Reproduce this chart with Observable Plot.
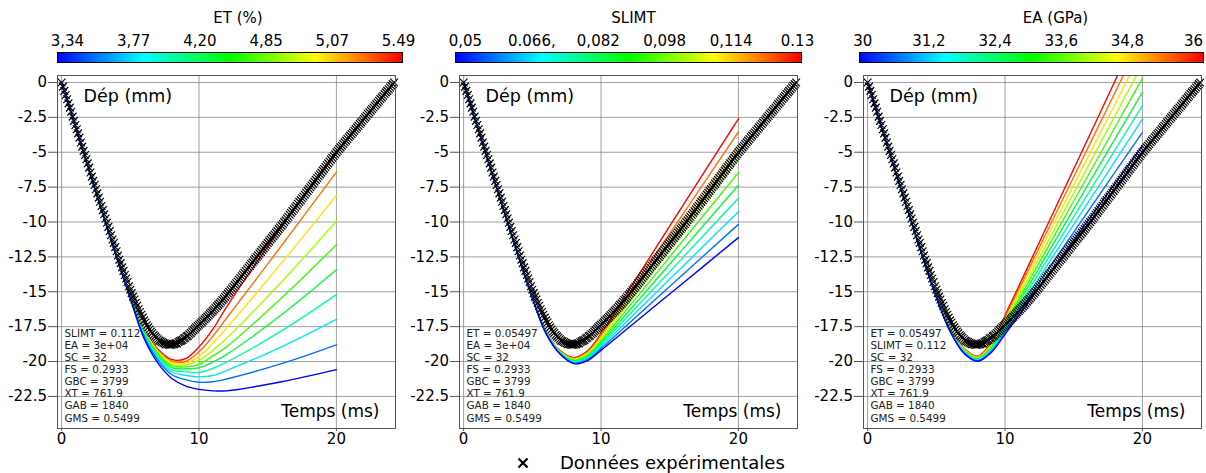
<!DOCTYPE html>
<html><head><meta charset="utf-8">
<script src="https://cdn.jsdelivr.net/npm/d3@7"></script>
<script src="https://cdn.jsdelivr.net/npm/@observablehq/plot@0.6"></script>
<style>
html,body{margin:0;padding:0;background:#fff;}
#root{position:relative;width:1206px;height:473px;overflow:hidden;font-family:"DejaVu Sans",sans-serif;background:#fff;}
.abs{position:absolute;}
.explg-swatch > svg{margin-right:29px !important;}
</style></head><body><div id="root"></div>
<script>
// ---------- data ----------
const expT0 = 0, expDt = 0.1; // sampling of the experimental record (ms)
const expY = [
0,-0.3,-0.6,-0.9,-1.2,-1.5,-1.8,-2.1,-2.45,-2.75,
-3.05,-3.35,-3.65,-3.95,-4.3,-4.6,-4.9,-5.2,-5.5,-5.8,
-6.1,-6.45,-6.75,-7.05,-7.35,-7.65,-7.95,-8.25,-8.55,-8.85,
-9.15,-9.45,-9.75,-10.05,-10.35,-10.65,-10.95,-11.25,-11.5,-11.8,
-12.1,
-12.4,-12.7,-12.95,-13.25,-13.5,-13.8,-14.05,-14.3,-14.6,-14.85,
-15.1,-15.35,-15.55,-15.8,-16.0,-16.25,-16.45,-16.65,-16.85,-17.05,
-17.2,-17.4,-17.55,-17.7,-17.85,-17.95,-18.1,-18.2,-18.3,-18.4,
-18.5,-18.55,-18.6,-18.65,-18.7,-18.75,-18.75,-18.8,-18.8,-18.8,
-18.75,-18.75,-18.7,-18.7,-18.6,-18.55,-18.5,-18.45,-18.35,-18.3,
-18.2,-18.15,-18.05,-17.95,-17.85,-17.75,-17.65,-17.55,-17.45,-17.36,
-17.27,-17.18,-17.08,-16.98,-16.88,-16.78,-16.68,-16.58,-16.48,-16.37,
-16.27,-16.16,-16.05,-15.94,-15.83,-15.72,-15.6,-15.49,-15.37,-15.25,
-15.13,-15.01,-14.89,
-14.76,-14.64,-14.51,-14.39,-14.26,-14.14,-14.01,
-13.89,-13.76,-13.64,-13.51,-13.39,-13.26,-13.14,-13.01,-12.89,-12.76,
-12.64,-12.51,-12.39,-12.26,-12.14,-12.01,-11.89,-11.76,-11.64,-11.51,
-11.39,-11.26,-11.14,-11.01,-10.89,-10.76,-10.64,-10.51,-10.39,-10.26,
-10.14,-10.01,
-9.88,-9.75,-9.62,-9.48,-9.35,-9.22,-9.09,-8.96,
-8.83,-8.69,-8.56,-8.43,-8.3,-8.17,-8.04,-7.9,-7.77,-7.64,
-7.51,-7.38,-7.25,-7.11,-6.98,-6.85,-6.72,-6.59,-6.46,-6.32,
-6.19,-6.06,-5.93,-5.8,-5.66,-5.53,-5.4,-5.27,-5.14,-5.01,
-4.89,-4.77,-4.65,-4.53,-4.41,-4.29,-4.17,-4.05,-3.93,-3.81,
-3.69,-3.58,-3.46,-3.34,-3.22,-3.1,-2.98,-2.86,-2.74,-2.62,
-2.5,-2.38,-2.26,-2.14,-2.02,-1.9,-1.79,-1.67,-1.55,-1.43,
-1.31,-1.19,-1.07,-0.95,-0.83,-0.71,-0.6,-0.48,-0.36,-0.24,
-0.12,0.0
];

// Panel 1: ET varies (blue -> red)
const etTimes = [0,2,4,5,6,7,8,9,10,11,12,16,20];
const etCurves = [
[0,-6.3,-12.55,-15.5,-18.35,-20.1,-21.2,-21.75,-22.0,-22.1,-22.1,-21.45,-20.58],
[0,-6.3,-12.53,-15.45,-18.2,-19.9,-20.93,-21.3,-21.48,-21.45,-21.25,-20.15,-18.8],
[0,-6.28,-12.5,-15.4,-18.1,-19.77,-20.75,-20.98,-21.1,-21.0,-20.65,-18.95,-16.98],
[0,-6.28,-12.48,-15.38,-18.0,-19.65,-20.6,-20.72,-20.8,-20.5,-20.05,-17.8,-15.2],
[0,-6.27,-12.46,-15.35,-17.93,-19.54,-20.44,-20.52,-20.45,-20.05,-19.5,-16.65,-13.42],
[0,-6.27,-12.45,-15.32,-17.85,-19.44,-20.3,-20.38,-20.2,-19.6,-18.95,-15.45,-11.63],
[0,-6.26,-12.44,-15.3,-17.8,-19.35,-20.19,-20.25,-19.9,-19.2,-18.35,-14.3,-9.94],
[0,-6.26,-12.43,-15.27,-17.72,-19.26,-20.07,-20.13,-19.65,-18.7,-17.6,-12.95,-8.09],
[0,-6.25,-12.42,-15.24,-17.66,-19.18,-19.96,-20.0,-19.3,-18.2,-16.9,-11.7,-6.42],
[0,-6.25,-12.4,-15.2,-17.6,-19.1,-19.85,-19.8,-18.95,-17.7,-16.1,-10.35,-4.9]
];
// Panel 2: SLIMT varies
const slimtTimes = [0,2,4,5,6,7,8,9,10,12,16,20];
const slimtCurves = [
[0,-6.3,-12.5,-15.45,-18.0,-19.45,-20.15,-19.95,-19.2,-17.58,-14.35,-11.12],
[0,-6.3,-12.5,-15.45,-17.98,-19.42,-20.1,-19.87,-19.07,-17.29,-13.73,-10.17],
[0,-6.3,-12.5,-15.44,-17.97,-19.39,-20.05,-19.79,-18.93,-17.0,-13.13,-9.26],
[0,-6.3,-12.5,-15.44,-17.95,-19.37,-20.01,-19.72,-18.8,-16.7,-12.5,-8.3],
[0,-6.3,-12.5,-15.43,-17.93,-19.34,-19.96,-19.64,-18.67,-16.41,-11.89,-7.37],
[0,-6.3,-12.5,-15.43,-17.92,-19.31,-19.91,-19.56,-18.53,-16.12,-11.29,-6.46],
[0,-6.3,-12.5,-15.42,-17.9,-19.28,-19.86,-19.48,-18.4,-15.81,-10.64,-5.46],
[0,-6.3,-12.5,-15.42,-17.88,-19.26,-19.82,-19.41,-18.27,-15.52,-10.01,-4.5],
[0,-6.3,-12.5,-15.41,-17.87,-19.23,-19.77,-19.33,-18.13,-15.21,-9.38,-3.55],
[0,-6.3,-12.5,-15.4,-17.85,-19.2,-19.72,-19.25,-18.0,-14.92,-8.76,-2.6]
];
// Panel 3: EA varies
const eaTimes = [0,2,4,5,6,7,8,9,10,12,16,20];
const eaCurves = [
[0,-6.3,-12.5,-15.4,-17.84,-19.4,-19.98,-19.35,-18.05,-15.35,-9.95,-4.55],
[0,-6.3,-12.5,-15.4,-17.8,-19.36,-19.94,-19.27,-17.9,-15.03,-9.3,-3.57],
[0,-6.3,-12.5,-15.39,-17.76,-19.32,-19.9,-19.2,-17.75,-14.72,-8.67,-2.62],
[0,-6.3,-12.5,-15.38,-17.72,-19.28,-19.86,-19.12,-17.6,-14.41,-8.04,-1.66],
[0,-6.3,-12.5,-15.37,-17.68,-19.24,-19.82,-19.05,-17.45,-14.1,-7.4,-0.7],
[0,-6.3,-12.5,-15.36,-17.64,-19.2,-19.78,-18.97,-17.3,-13.78,-6.74,0.3],
[0,-6.3,-12.5,-15.35,-17.6,-19.15,-19.74,-18.9,-17.15,-13.46,-6.08,1.3],
[0,-6.3,-12.5,-15.34,-17.56,-19.11,-19.7,-18.82,-17.0,-13.14,-5.42,2.3],
[0,-6.3,-12.5,-15.33,-17.52,-19.07,-19.66,-18.74,-16.85,-12.82,-4.76,3.3],
[0,-6.3,-12.5,-15.32,-17.48,-19.03,-19.62,-18.67,-16.7,-12.5,-4.1,4.3]
];

const etLabels = ["3,34","3,77","4,20","4,85","5,07","5.49"];
const slimtLabels = ["0,05","0.066,","0,082","0,098","0,114","0.13"];
const eaLabels = ["30","31,2","32,4","33,6","34,8","36"];

const etParams = ["SLIMT = 0.112","EA = 3e+04","SC = 32","FS = 0.2933","GBC = 3799","XT = 761.9","GAB = 1840","GMS = 0.5499"];
const slimtParams = ["ET = 0.05497","EA = 3e+04","SC = 32","FS = 0.2933","GBC = 3799","XT = 761.9","GAB = 1840","GMS = 0.5499"];
const eaParams = ["ET = 0.05497","SLIMT = 0.112","SC = 32","FS = 0.2933","GBC = 3799","XT = 761.9","GAB = 1840","GMS = 0.5499"];

const xTicks = [0, 10, 20];
const yTicks = [0,-2.5,-5,-7.5,-10,-12.5,-15,-17.5,-20,-22.5];
const jetStops = ["#0000ff","#00ffff","#00ff00","#ffff00","#ff0000"];
const yLabelText = "Dép (mm)";
const xLabelText = "Temps (ms)";
const expLabel = "Données expérimentales";

// ---------- build ----------
const expData = expY.map((y, i) => ({t: expT0 + i * expDt, y}));
function curveData(times, curves) {
  // red-end curves first so that the blue-end curves are drawn on top
  const out = [];
  for (let k = curves.length - 1; k >= 0; --k) curves[k].forEach((y, i) => out.push({t: times[i], y, k}));
  return out;
}
const panels = [
  {left: 0, times: etTimes, curves: etCurves, params: etParams, labels: etLabels, title: "ET (%)", cbDomain: [-0.15, 5.06], cbLeft: 57, cbWidth: 345, titleDx: 8},
  {left: 402, times: slimtTimes, curves: slimtCurves, params: slimtParams, labels: slimtLabels, title: "SLIMT", cbDomain: [-0.15, 5.06], cbLeft: 455, cbWidth: 346, titleDx: 5},
  {left: 806, times: eaTimes, curves: eaCurves, params: eaParams, labels: eaLabels, title: "EA (GPa)", cbDomain: [-0.05, 5.15], cbLeft: 859, cbWidth: 344, titleDx: 24}
];
const root = document.getElementById("root");
const font = "DejaVu Sans";

function place(el, left, top) {
  el.classList.add("abs");
  el.style.left = left + "px";
  el.style.top = top + "px";
  root.appendChild(el);
}

for (const p of panels) {
  const lineColor = {type: "linear", domain: [0, 2.25, 4.5, 6.75, 9], range: jetStops};
  const chart = Plot.plot({
    width: 400, height: 380,
    marginLeft: 57, marginRight: 5, marginTop: 5, marginBottom: 22,
    style: {fontFamily: font, fontSize: "15px", color: "black", background: "white", overflow: "visible"},
    x: {domain: [-0.3, 24.3]},
    y: {domain: [-24.8, 0.5]},
    color: lineColor,
    marks: [
      Plot.gridX(xTicks, {stroke: "#808080", strokeOpacity: 0.75}),
      Plot.gridY(yTicks, {stroke: "#808080", strokeOpacity: 0.75}),
      Plot.axisX(xTicks, {tickSize: 3, tickPadding: 2, tickFormat: d => String(d), label: null, stroke: "#555"}),
      Plot.axisY(yTicks, {tickSize: 9, tickPadding: 1.5, tickFormat: d => String(d), label: null, stroke: "#555"}),
      Plot.line(curveData(p.times, p.curves), {x: "t", y: "y", z: "k", stroke: "k", curve: "catmull-rom", strokeWidth: 1.4, clip: true}),
      Plot.dot(expData, {x: "t", y: "y", symbol: "times", r: 3.6, stroke: "black", strokeWidth: 1.2}),
      Plot.frame({stroke: "#555"}),
      Plot.text([yLabelText], {frameAnchor: "top-left", dx: 26, dy: 21, lineAnchor: "middle", textAnchor: "start", fontSize: 17.5, fill: "black"}),
      Plot.text([xLabelText], {frameAnchor: "bottom-right", dx: -16, dy: -16.5, lineAnchor: "middle", textAnchor: "end", fontSize: 17, fill: "black"}),
      Plot.text([p.params.join("\n")], {frameAnchor: "bottom-left", dx: 7, dy: -7, lineAnchor: "bottom", textAnchor: "start", fontSize: 10.4, lineHeight: 1.16, fill: "#222"})
    ]
  });
  place(chart, p.left, 70);

  // colour bar
  const [d0, d1] = p.cbDomain;
  const n = 240;
  const cells = d3.range(n).map(i => ({a: d0 + (d1 - d0) * i / n, b: Math.min(d1, d0 + (d1 - d0) * (i + 1.5) / n)}));
  const cbStops = d3.range(5).map(i => d0 + (d1 - d0) * i / 4);
  const tickIdx = p.labels.map((_, i) => i);
  const bar = Plot.plot({
    width: p.cbWidth + 60, height: 64,
    marginLeft: 30, marginRight: 30, marginTop: 52, marginBottom: 2,
    style: {fontFamily: font, fontSize: "15px", color: "black", background: "transparent", overflow: "visible"},
    x: {domain: p.cbDomain},
    color: {type: "linear", domain: cbStops, range: jetStops},
    marks: [
      Plot.barX(cells, {x1: "a", x2: "b", fill: d => (d.a + d.b) / 2, shapeRendering: "crispEdges"}),
      Plot.frame({stroke: "black"}),
      Plot.axisX(tickIdx, {anchor: "top", tickSize: 0, tickPadding: 6.5, tickFormat: i => p.labels[i], label: null}),
      Plot.text([p.title], {frameAnchor: "top", dx: p.titleDx, dy: -34, lineAnchor: "middle", fontSize: 15, fill: "black"})
    ]
  });
  place(bar, p.cbLeft - 30, 0);
}

// legend
const lg = Plot.legend({
  symbol: {domain: [expLabel], range: ["times"]},
  stroke: "black", strokeWidth: 2.2, r: 4.2, swatchSize: 16,
  className: "explg",
  style: {fontSize: "18px", fontFamily: font, color: "black", margin: "0"}
});
place(lg, 515, 446);
</script></body></html>
